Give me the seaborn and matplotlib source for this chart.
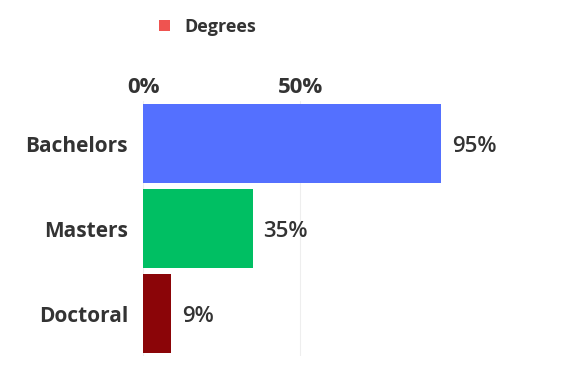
import matplotlib
matplotlib.use("Agg")
import matplotlib.pyplot as plt
from matplotlib.patches import Patch
import seaborn as sns
import pandas as pd

categories = ["Bachelors", "Masters", "Doctoral"]
values = [95, 35, 9]
bar_colors = ["#5470FF", "#00BF63", "#8B0508"]
tick_values = [0, 50]
tick_labels = ["0%", "50%"]
legend_label = "Degrees"
legend_color = "#EF5350"

sns.set_theme(style="white")
plt.rcParams["font.family"] = ["Open Sans", "DejaVu Sans"]

df = pd.DataFrame({"cat": categories, "val": values})

fig = plt.figure(figsize=(5.68, 3.86), dpi=100)
ax = fig.add_axes([0.2518, 0.0777, 0.8046 - 0.2518, 0.6606])

sns.barplot(data=df, x="val", y="cat", hue="cat", palette=bar_colors,
            order=categories, hue_order=categories, width=0.93,
            legend=False, ax=ax, saturation=1, linewidth=0)

ax.set_xlim(0, 100)
ax.set_xticks(tick_values)
ax.set_xticklabels(tick_labels)
ax.xaxis.tick_top()
ax.xaxis.set_label_position("top")
ax.set_xlabel("")
ax.set_ylabel("")
ax.tick_params(axis="x", length=0, pad=2.5, labelsize=16, colors="#333333")
ax.tick_params(axis="y", length=0, pad=10.8, labelsize=15, colors="#333333")
for lab in ax.get_xticklabels() + ax.get_yticklabels():
    lab.set_fontweight("bold")

ax.grid(axis="x", color="#eeeeee", linewidth=0.8)
ax.set_axisbelow(True)
for s in ax.spines.values():
    s.set_visible(False)

for i, v in enumerate(values):
    ax.text(v + 3.3, i + 0.035, f"{v}%", va="center", ha="left", fontsize=16,
            fontweight="semibold", color="#333333")

handle = Patch(facecolor=legend_color, edgecolor="none")
fig.legend([handle], [legend_label], loc="center", bbox_to_anchor=(207.5 / 568, 1 - 27 / 386),
           frameon=False, handlelength=0.6, handleheight=0.6, handletextpad=0.8,
           prop={"weight": "bold", "size": 13}, labelcolor="#333333")

fig.savefig("out.png", dpi=100)
